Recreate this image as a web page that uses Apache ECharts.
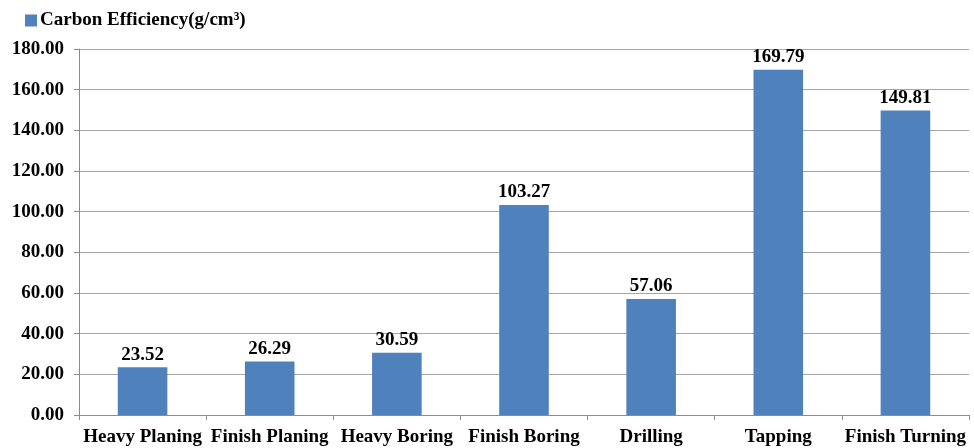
<!DOCTYPE html>
<html>
<head>
<meta charset="utf-8">
<script src="https://cdn.jsdelivr.net/npm/echarts@6/dist/echarts.min.js"></script>
<style>html,body{margin:0;padding:0;background:#fff}#c{width:974px;height:448px}</style>
</head>
<body>
<div id="c"></div>
<script>
const categories = ['Heavy Planing', 'Finish Planing', 'Heavy Boring', 'Finish Boring', 'Drilling', 'Tapping', 'Finish Turning'];
const efficiency = [23.52, 26.29, 30.59, 103.27, 57.06, 169.79, 149.81];
const seriesName = 'Carbon Efficiency(g/cm\u00B3)';

const font = '"Liberation Serif", "Times New Roman", serif';
const chart = echarts.init(document.getElementById('c'));
chart.setOption({
  animation: false,
  textStyle: { fontFamily: font },
  legend: {
    left: 20, top: 6, itemWidth: 12, itemHeight: 12, itemGap: 4,
    icon: 'rect',
    textStyle: { fontFamily: font, fontWeight: 'bold', fontSize: 19, color: '#000', padding: [0, 0, 0, -2] },
    data: [seriesName]
  },
  grid: { left: 79, right: 5, top: 49, bottom: 33, containLabel: false },
  xAxis: {
    type: 'category', data: categories,
    axisLine: { lineStyle: { color: '#8c8c8c', width: 1 } },
    axisTick: { show: true, length: 5, lineStyle: { color: '#8c8c8c' } },
    axisLabel: { fontFamily: font, fontWeight: 'bold', fontSize: 19, color: '#000', margin: 13, interval: 0 }
  },
  yAxis: {
    type: 'value', min: 0, max: 180, interval: 20,
    axisLine: { show: true, lineStyle: { color: '#8c8c8c' } },
    axisTick: { show: true, length: 5, lineStyle: { color: '#8c8c8c' } },
    splitLine: { lineStyle: { color: '#a6a6a6', width: 1 } },
    axisLabel: { fontFamily: font, fontWeight: 'bold', fontSize: 19, color: '#000', margin: 15,
      formatter: v => v.toFixed(2) }
  },
  series: [{
    name: seriesName, type: 'bar', data: efficiency, barWidth: '39%',
    itemStyle: { color: '#4F81BD' },
    label: { show: true, position: 'top', distance: 3, fontFamily: font, fontWeight: 'bold', fontSize: 19, color: '#000',
      formatter: p => p.value.toFixed(2) }
  }]
});
</script>
</body>
</html>
